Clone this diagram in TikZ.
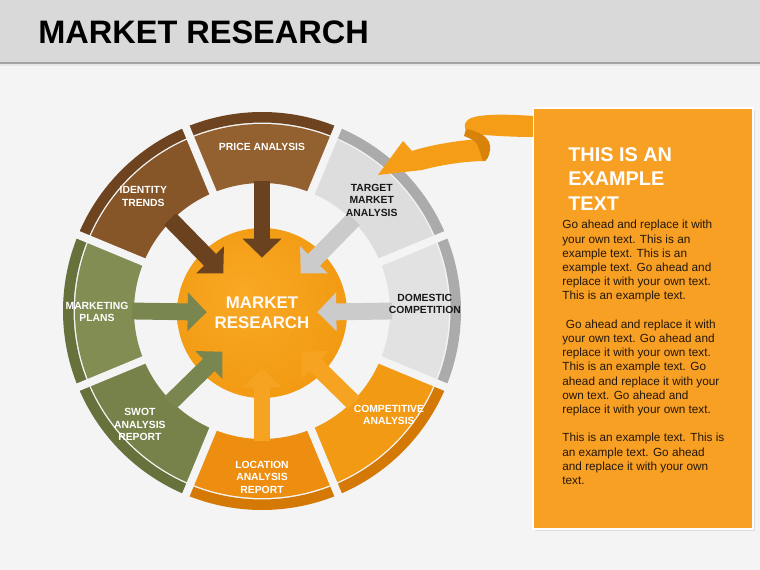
\documentclass[tikz,border=0pt]{standalone}
\usepackage{fontspec}
\setmainfont{Liberation Sans}
\usetikzlibrary{arrows.meta,shadows}

\definecolor{pagebg}{HTML}{F4F4F4}
\definecolor{headbg}{HTML}{D9D9D9}
\definecolor{headrule}{HTML}{A3A3A3}
\definecolor{brownA}{HTML}{93602F}
\definecolor{brownB}{HTML}{865528}
\definecolor{brownR}{HTML}{6E4420}
\definecolor{brownF}{HTML}{6B4220}
\definecolor{greyA}{HTML}{DDDDDD}
\definecolor{greyB}{HTML}{E2E2E2}
\definecolor{greyR}{HTML}{ABABAB}
\definecolor{greyF}{HTML}{CBCBCB}
\definecolor{oranA}{HTML}{F39A15}
\definecolor{oranB}{HTML}{EE8E10}
\definecolor{oranR}{HTML}{D47905}
\definecolor{oranF}{HTML}{F6A321}
\definecolor{oliveA}{HTML}{818D52}
\definecolor{oliveB}{HTML}{76824A}
\definecolor{oliveR}{HTML}{66713C}
\definecolor{oliveF}{HTML}{7A8650}
\definecolor{hubA}{HTML}{F9A925}
\definecolor{hubB}{HTML}{F29A12}
\definecolor{hubC}{HTML}{DC8508}
\definecolor{notebg}{HTML}{F8A024}
\definecolor{notetext}{HTML}{24170A}
\definecolor{ribbonA}{HTML}{F59D17}
\definecolor{ribbonD}{HTML}{D9820A}

\pgfdeclareradialshading{hubshade}{\pgfpoint{-6bp}{6bp}}{color(0bp)=(hubA); color(28bp)=(hubB); color(50bp)=(hubC)}

\tikzset{
  seglabel/.style={font=\fontsize{5.9}{7.1}\selectfont\bfseries, align=center, text=white, inner sep=0pt},
  darklabel/.style={seglabel, text=black!90},
  feed/.style={line width=9.6pt, -{Triangle[length=10.8pt,width=21.5pt]}},
  gapline/.style={pagebg, line width=4.5pt},
}

\begin{document}
\begin{tikzpicture}[x=0.02cm, y=-0.02cm]
\useasboundingbox (0,0) rectangle (760,570);
\fill[pagebg] (0,0) rectangle (760,570);
\fill[headbg] (0,0) rectangle (760,62);
\fill[headrule] (0,62) rectangle (760,64.5);
\fill[black!10] (0,64.5) rectangle (760,66);
\node[anchor=base west, inner sep=0pt, font=\fontsize{18.5}{22}\selectfont\bfseries] (title) at (38,44) {MARKET RESEARCH};

% wheel
\begin{scope}[shift={(262,311)}, yscale=-1]
  \foreach \ang/\body/\rim in {90/brownA/brownR, 135/brownB/brownR, 45/greyA/greyR, 0/greyB/greyR,
      315/oranA/oranR, 270/oranB/oranR, 225/oliveB/oliveR, 180/oliveA/oliveR}{
    \pgfmathsetmacro\from{\ang-22.5}
    \pgfmathsetmacro\to{\ang+22.5}
    \fill[\body] (\from:128) arc[start angle=\from, end angle=\to, radius=128]
      -- (\to:187) arc[start angle=\to, end angle=\from, radius=187] -- cycle;
    \fill[\rim] (\from:188.5) arc[start angle=\from, end angle=\to, radius=188.5]
      -- (\to:199) arc[start angle=\to, end angle=\from, radius=199] -- cycle;
  }
  \foreach \g in {22.5,67.5,...,337.5}
    \draw[gapline] (\g:120) -- (\g:206);

  \shade[shading=hubshade] (0,-2) circle[radius=85];
  \node[circle, minimum size=2.2cm, inner sep=0pt, align=center, text=white!96!orange,
        font=\fontsize{9.6}{11.3}\selectfont\bfseries] (hub) at (0,-2) {MARKET\\RESEARCH};

  \foreach \ang/\col in {90/brownF, 135/brownF, 45/greyF, 0/greyF, 315/oranF, 270/oranF, 225/oliveF, 180/oliveF}{
    \coordinate (tail-\ang) at (\ang:130);
    \draw[feed, \col] (tail-\ang) -- (hub);
  }

  \node[seglabel] (price) at (90:164) {PRICE ANALYSIS};
  \node[seglabel] (identity) at (136:165) {IDENTITY\\TRENDS};
  \node[darklabel] (target) at (45.3:156) {TARGET\\MARKET\\ANALYSIS};
  \node[darklabel] (domestic) at (2.5:163) {DOMESTIC\\COMPETITION};
  \node[seglabel] (competitive) at (320.7:164) {COMPETITIVE\\ANALYSIS};
  \node[seglabel] (location) at (270:166) {LOCATION\\ANALYSIS\\REPORT};
  \node[seglabel] (swot) at (223:167) {SWOT\\ANALYSIS\\REPORT};
  \node[seglabel] (marketing) at (180.3:165) {MARKETING\\PLANS};
\end{scope}

% note box
\node[draw=white, line width=1.2pt, fill=notebg, minimum width=4.4cm, minimum height=8.42cm,
      drop shadow={opacity=0.2, shadow xshift=1pt, shadow yshift=-1pt}] (note) at (643,318.5) {};
\node[anchor=north west, inner sep=0pt, align=left, text=white,
      font=\fontsize{11.3}{13.9}\selectfont\bfseries] (notehead) at (568,147) {THIS IS AN\\EXAMPLE\\TEXT};
\node[anchor=north west, inner sep=0pt, align=left, text=notetext,
      font=\fontsize{6.7}{8.08}\selectfont] (notebody) at (562,220) {Go ahead and replace it with\\
your own text. This is an\\
example text. This is an\\
example text. Go ahead and\\
replace it with your own text.\\
This is an example text.\\[8.08pt]
\hspace*{2pt}Go ahead and replace it with\\
your own text. Go ahead and\\
replace it with your own text.\\
This is an example text. Go\\
ahead and replace it with your\\
own text. Go ahead and\\
replace it with your own text.\\[8.08pt]
This is an example text. This is\\
an example text. Go ahead\\
and replace it with your own\\
text.};

% ribbon pointer
\coordinate (ribtip) at (378,175);
\fill[ribbonA] (482,139) .. controls (460,140) and (430,145) .. (412,151) -- (403,141) -- (ribtip)
  -- (422,170) .. controls (445,164) and (468,161) .. (486,161) -- cycle;
\fill[ribbonA] (533,116) .. controls (505,114) and (482,114) .. (471,118)
  .. controls (462,122) and (463,132) .. (472,134) .. controls (495,136) and (515,137) .. (533,137) -- cycle;
\fill[ribbonD] (466,129) .. controls (478,131) and (492,137) .. (490,150)
  .. controls (489,157) and (487,161) .. (483,161) -- (479,149)
  .. controls (478,142) and (472,139) .. (464,136) -- cycle;
\end{tikzpicture}
\end{document}
